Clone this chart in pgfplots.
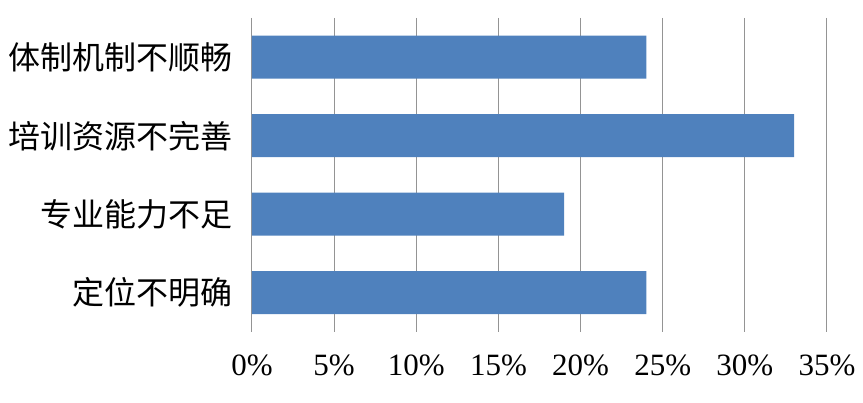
\documentclass[border=0pt]{standalone}
\usepackage{fontspec}
\setmainfont{Liberation Serif}
\newfontfamily\cjk{Noto Sans CJK SC}
\usepackage{pgfplots}
\pgfplotsset{compat=1.18}
\usetikzlibrary{calc}
\definecolor{barblue}{HTML}{4F81BD}
\begin{document}
\begin{tikzpicture}
\begin{axis}[
  scale only axis,
  width=287.5pt, height=157pt,
  xbar, bar width=21.5pt,
  xmin=0, xmax=35,
  ymin=-0.5, ymax=3.5,
  y dir=reverse,
  xtick={0,5,10,15,20,25,30,35},
  xticklabels={0\%,5\%,10\%,15\%,20\%,25\%,30\%,35\%},
  ytick={0,1,2,3},
  yticklabels={体制机制不顺畅,培训资源不完善,专业能力不足,定位不明确},
  yticklabel style={font=\cjk\fontsize{16}{19}\selectfont, xshift=-6pt},
  xticklabel style={font=\fontsize{15.5}{18}\selectfont, yshift=-8pt},
  /pgf/number format/assume math mode=true,
  axis line style={draw=none},
  major tick length=0pt,
  xmajorgrids,
  grid style={color=black!42, line width=0.5pt},
]
\addplot[fill=barblue, draw=none] coordinates {(24,0) (33,1) (19,2) (24,3)};
\coordinate (sw) at (rel axis cs:0,0);
\coordinate (ne) at (rel axis cs:1,1);
\end{axis}
\pgfresetboundingbox
\path[use as bounding box] ($(sw)+(-126pt,-35.5pt)$) rectangle ($(ne)+(18pt,9pt)$);
\end{tikzpicture}
\end{document}
